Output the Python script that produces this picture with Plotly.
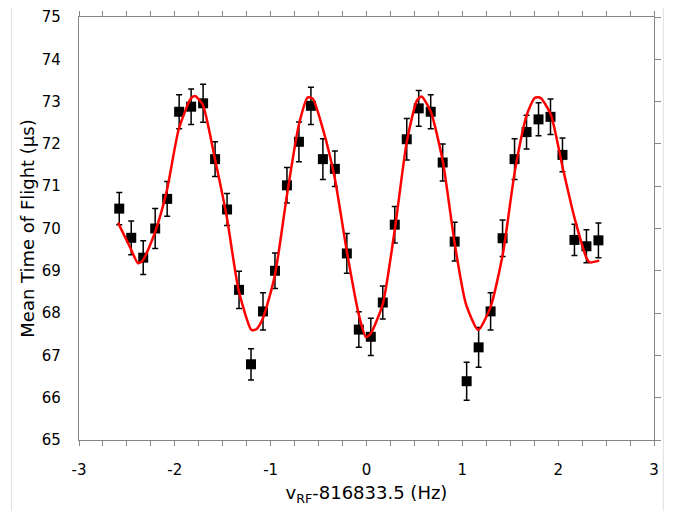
import plotly.graph_objects as go

# Measured data
freq = [-2.58, -2.455, -2.33, -2.205, -2.08, -1.955, -1.83, -1.705, -1.58, -1.455,
        -1.33, -1.205, -1.08, -0.955, -0.83, -0.705, -0.58, -0.455, -0.33, -0.205,
        -0.08, 0.045, 0.17, 0.295, 0.42, 0.545, 0.67, 0.795, 0.92, 1.045,
        1.17, 1.295, 1.42, 1.545, 1.67, 1.795, 1.92, 2.045, 2.17, 2.295, 2.42]
tof = [70.47, 69.78, 69.31, 70.00, 70.70, 72.76, 72.88, 72.96, 71.64, 70.45,
       68.55, 66.79, 68.04, 69.00, 71.02, 72.05, 72.90, 71.64, 71.41, 69.41,
       67.61, 67.44, 68.25, 70.09, 72.11, 72.84, 72.76, 71.56, 69.69, 66.39,
       67.19, 68.04, 69.77, 71.64, 72.28, 72.58, 72.64, 71.74, 69.73, 69.58, 69.72]
tof_err = [0.38, 0.40, 0.40, 0.47, 0.41, 0.40, 0.42, 0.45, 0.41, 0.38,
           0.44, 0.37, 0.44, 0.42, 0.42, 0.47, 0.44, 0.48, 0.42, 0.47,
           0.42, 0.44, 0.39, 0.43, 0.49, 0.42, 0.40, 0.44, 0.46, 0.45,
           0.47, 0.44, 0.43, 0.48, 0.40, 0.39, 0.42, 0.40, 0.37, 0.39, 0.41]

# Fit curve
fit_x = [-2.593, -2.46, -2.384, -2.335, -2.21, -2.085, -1.96, -1.834, -1.79, -1.709,
         -1.583, -1.458, -1.333, -1.20, -1.148, -1.082, -0.957, -0.832, -0.707, -0.613,
         -0.561, -0.456, -0.331, -0.206, -0.08, -0.005, 0.045, 0.17, 0.296, 0.421,
         0.525, 0.574, 0.671, 0.796, 0.921, 1.037, 1.165, 1.294, 1.423, 1.548,
         1.673, 1.757, 1.816, 1.924, 2.049, 2.174, 2.30, 2.331, 2.428]
fit_y = [70.14, 69.52, 69.18, 69.24, 69.89, 70.88, 72.34, 73.07, 73.13, 72.93,
         71.66, 70.27, 68.53, 67.60, 67.62, 67.87, 68.88, 70.76, 72.44, 73.10,
         73.07, 72.36, 71.19, 69.47, 67.96, 67.43, 67.52, 68.22, 69.99, 72.06,
         73.02, 73.12, 72.76, 71.59, 69.64, 68.22, 67.60, 68.14, 69.40, 71.35,
         72.69, 73.09, 73.09, 72.69, 71.42, 70.22, 69.28, 69.20, 69.24]

x_ticks = [-3, -2, -1, 0, 1, 2, 3]
y_ticks = [65, 66, 67, 68, 69, 70, 71, 72, 73, 74, 75]

FONT = "DejaVu Sans"
AXIS_COLOR = "#868686"

fig = go.Figure()
fig.add_trace(go.Scatter(
    x=freq, y=tof, mode="markers",
    marker=dict(symbol="square", size=10, color="black"),
    error_y=dict(type="data", array=tof_err, visible=True, color="black",
                 thickness=1.5, width=3),
    showlegend=False, cliponaxis=False,
))
fig.add_trace(go.Scatter(
    x=fit_x, y=fit_y, mode="lines", line=dict(color="#ff0000", width=2.5, shape="spline", smoothing=0.6),
    showlegend=False,
))
# invisible trace to anchor right-hand axis
fig.add_trace(go.Scatter(x=[0], y=[70], yaxis="y2", mode="markers",
                         marker=dict(opacity=0), showlegend=False, hoverinfo="skip"))

# page body has an 8px margin, so the figure is sized to fill the rest of the window
fig.update_layout(
    width=673, height=503,
    margin=dict(l=71, r=27, t=9, b=71, autoexpand=False),
    paper_bgcolor="white", plot_bgcolor="white",
    font=dict(family=FONT, size=15, color="black"),
    xaxis=dict(
        range=[-3, 3], tickvals=x_ticks, ticktext=[str(v) for v in x_ticks],
        showgrid=False, zeroline=False, automargin=False, ticklabeloverflow="allow",
        showline=True, linecolor=AXIS_COLOR, linewidth=1.2, mirror="ticks",
        ticks="outside", ticklen=5, tickcolor=AXIS_COLOR, tickwidth=1,
        minor=dict(dtick=0.25, tick0=0, ticks="outside", ticklen=5, tickcolor=AXIS_COLOR, tickwidth=1),
        tickfont=dict(size=15), ticklabelstandoff=11,
        title=dict(text="v<sub>RF</sub>-816833.5 (Hz)", font=dict(size=18), standoff=8),
    ),
    yaxis=dict(
        range=[65, 75], tickvals=y_ticks, ticktext=[str(v) for v in y_ticks],
        showgrid=False, zeroline=False, automargin=False, ticklabeloverflow="allow",
        showline=True, linecolor=AXIS_COLOR, linewidth=1.2, mirror=False,
        ticks="", tickfont=dict(size=15), ticklabelstandoff=14,
        title=dict(text="Mean Time of Flight (µs)", font=dict(size=18), standoff=2),
    ),
    yaxis2=dict(
        range=[65, 75], overlaying="y", side="right", tickvals=y_ticks,
        showgrid=False, zeroline=False, showticklabels=False, automargin=False,
        showline=True, linecolor=AXIS_COLOR, linewidth=1.2,
        ticks="outside", ticklen=6, tickcolor=AXIS_COLOR, tickwidth=1,
    ),
    shapes=[
        dict(type="line", xref="paper", yref="paper", x0=-0.1176, x1=-0.1176, y0=-0.17, y1=1.02,
             line=dict(color="#dedede", width=1)),
        dict(type="line", xref="paper", yref="paper", x0=1.0162, x1=1.0162, y0=-0.17, y1=1.02,
             line=dict(color="#dedede", width=1)),
    ],
)

fig.write_html("out.html")
